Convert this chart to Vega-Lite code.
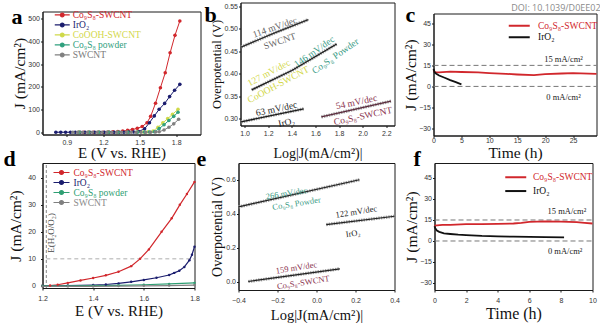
{
"$schema":"https://vega.github.io/schema/vega-lite/v6.json",
"background":"white",
"padding":{"left":2.5,"top":1.5,"right":0,"bottom":0},
"config":{
 "view":{"stroke":null},
 "axis":{"grid":false,"domainColor":"#1a1a1a","tickColor":"#1a1a1a","tickSize":2,"labelFont":"Liberation Sans","labelFontSize":7,"labelColor":"#333333","titleFont":"Liberation Serif","titleFontWeight":"normal","titleColor":"#111111"},
 "axisX":{"labelFlush":false},
 "legend":{"padding":0,"labelFont":"Liberation Serif","labelFontSize":9.5,"labelLimit":0},
 "title":{"font":"Liberation Serif","fontSize":22,"fontWeight":"bold","color":"#000000","anchor":"start","frame":"group","offset":0,"baseline":"top"},
 "text":{"font":"Liberation Serif"}
},
"datasets":{
 "a":[
  {"s":"Co₉S₈-SWCNT","x":1.00,"y":0},{"s":"Co₉S₈-SWCNT","x":1.04,"y":0},{"s":"Co₉S₈-SWCNT","x":1.08,"y":0},{"s":"Co₉S₈-SWCNT","x":1.12,"y":0},{"s":"Co₉S₈-SWCNT","x":1.16,"y":0},{"s":"Co₉S₈-SWCNT","x":1.20,"y":0},{"s":"Co₉S₈-SWCNT","x":1.24,"y":0.5},{"s":"Co₉S₈-SWCNT","x":1.28,"y":1.5},{"s":"Co₉S₈-SWCNT","x":1.32,"y":3},{"s":"Co₉S₈-SWCNT","x":1.36,"y":5},{"s":"Co₉S₈-SWCNT","x":1.40,"y":8},{"s":"Co₉S₈-SWCNT","x":1.44,"y":12},{"s":"Co₉S₈-SWCNT","x":1.48,"y":17},{"s":"Co₉S₈-SWCNT","x":1.52,"y":25},{"s":"Co₉S₈-SWCNT","x":1.56,"y":42},{"s":"Co₉S₈-SWCNT","x":1.59,"y":70},{"s":"Co₉S₈-SWCNT","x":1.63,"y":128},{"s":"Co₉S₈-SWCNT","x":1.67,"y":196},{"s":"Co₉S₈-SWCNT","x":1.71,"y":262},{"s":"Co₉S₈-SWCNT","x":1.75,"y":350},{"s":"Co₉S₈-SWCNT","x":1.79,"y":427},{"s":"Co₉S₈-SWCNT","x":1.83,"y":490},
  {"s":"IrO₂","x":0.81,"y":0},{"s":"IrO₂","x":0.85,"y":0},{"s":"IrO₂","x":0.89,"y":0},{"s":"IrO₂","x":0.93,"y":0},{"s":"IrO₂","x":0.97,"y":0},{"s":"IrO₂","x":1.01,"y":0},{"s":"IrO₂","x":1.05,"y":0},{"s":"IrO₂","x":1.09,"y":0},{"s":"IrO₂","x":1.13,"y":0},{"s":"IrO₂","x":1.17,"y":0},{"s":"IrO₂","x":1.21,"y":0},{"s":"IrO₂","x":1.25,"y":0},{"s":"IrO₂","x":1.29,"y":0},{"s":"IrO₂","x":1.33,"y":0},{"s":"IrO₂","x":1.37,"y":0},{"s":"IrO₂","x":1.41,"y":0.5},{"s":"IrO₂","x":1.45,"y":1},{"s":"IrO₂","x":1.49,"y":3},{"s":"IrO₂","x":1.54,"y":15},{"s":"IrO₂","x":1.58,"y":42},{"s":"IrO₂","x":1.62,"y":72},{"s":"IrO₂","x":1.66,"y":101},{"s":"IrO₂","x":1.705,"y":127},{"s":"IrO₂","x":1.746,"y":157},{"s":"IrO₂","x":1.787,"y":185},{"s":"IrO₂","x":1.83,"y":211},
  {"s":"CoOOH-SWCNT","x":1.00,"y":0},{"s":"CoOOH-SWCNT","x":1.08,"y":0},{"s":"CoOOH-SWCNT","x":1.16,"y":0},{"s":"CoOOH-SWCNT","x":1.24,"y":0},{"s":"CoOOH-SWCNT","x":1.32,"y":0},{"s":"CoOOH-SWCNT","x":1.40,"y":0},{"s":"CoOOH-SWCNT","x":1.48,"y":0.5},{"s":"CoOOH-SWCNT","x":1.53,"y":1},{"s":"CoOOH-SWCNT","x":1.57,"y":2},{"s":"CoOOH-SWCNT","x":1.61,"y":5},{"s":"CoOOH-SWCNT","x":1.65,"y":22},{"s":"CoOOH-SWCNT","x":1.69,"y":41},{"s":"CoOOH-SWCNT","x":1.73,"y":60},{"s":"CoOOH-SWCNT","x":1.77,"y":79},{"s":"CoOOH-SWCNT","x":1.815,"y":101},
  {"s":"Co₉S₈ powder","x":1.00,"y":0},{"s":"Co₉S₈ powder","x":1.08,"y":0},{"s":"Co₉S₈ powder","x":1.16,"y":0},{"s":"Co₉S₈ powder","x":1.24,"y":0},{"s":"Co₉S₈ powder","x":1.32,"y":0},{"s":"Co₉S₈ powder","x":1.40,"y":0},{"s":"Co₉S₈ powder","x":1.48,"y":0},{"s":"Co₉S₈ powder","x":1.54,"y":0.5},{"s":"Co₉S₈ powder","x":1.58,"y":1},{"s":"Co₉S₈ powder","x":1.62,"y":2},{"s":"Co₉S₈ powder","x":1.66,"y":16},{"s":"Co₉S₈ powder","x":1.70,"y":33},{"s":"Co₉S₈ powder","x":1.74,"y":52},{"s":"Co₉S₈ powder","x":1.78,"y":70},{"s":"Co₉S₈ powder","x":1.815,"y":88},
  {"s":"SWCNT","x":0.95,"y":0},{"s":"SWCNT","x":0.99,"y":0},{"s":"SWCNT","x":1.03,"y":0},{"s":"SWCNT","x":1.07,"y":0},{"s":"SWCNT","x":1.11,"y":0},{"s":"SWCNT","x":1.15,"y":0},{"s":"SWCNT","x":1.19,"y":0},{"s":"SWCNT","x":1.23,"y":0},{"s":"SWCNT","x":1.27,"y":0},{"s":"SWCNT","x":1.31,"y":0},{"s":"SWCNT","x":1.35,"y":0},{"s":"SWCNT","x":1.39,"y":0},{"s":"SWCNT","x":1.43,"y":0},{"s":"SWCNT","x":1.47,"y":0},{"s":"SWCNT","x":1.51,"y":0},{"s":"SWCNT","x":1.55,"y":0},{"s":"SWCNT","x":1.59,"y":0},{"s":"SWCNT","x":1.63,"y":1},{"s":"SWCNT","x":1.66,"y":2},{"s":"SWCNT","x":1.70,"y":10},{"s":"SWCNT","x":1.74,"y":22},{"s":"SWCNT","x":1.78,"y":37},{"s":"SWCNT","x":1.82,"y":57}
 ],
 "b_lines":[
  {"s":"SWCNT","x":0.97,"y":0.459},{"s":"SWCNT","x":1.25,"y":0.490},{"s":"SWCNT","x":1.54,"y":0.520},
  {"s":"CoOOH-SWCNT","x":1.06,"y":0.364},{"s":"CoOOH-SWCNT","x":1.40,"y":0.407},{"s":"CoOOH-SWCNT","x":1.78,"y":0.466},
  {"s":"IrO₂","x":0.97,"y":0.293},{"s":"IrO₂","x":1.50,"y":0.322},
  {"s":"Co₉S₈-SWCNT","x":1.65,"y":0.304},{"s":"Co₉S₈-SWCNT","x":2.24,"y":0.339}
 ],
 "b_text":[
  {"t":"114 mV/dec","s":"SWCNT","x":1.256,"y":0.503},
  {"t":"SWCNT","s":"SWCNT","x":1.298,"y":0.472},
  {"t":"127 mV/dec","s":"CoOOH-SWCNT","x":1.205,"y":0.402},
  {"t":"CoOOH-SWCNT","s":"CoOOH-SWCNT","x":1.285,"y":0.376},
  {"t":"146 mV/dec","s":"Co₉S₈ powder","x":1.59,"y":0.449},
  {"t":"Co₉S₈ Powder","s":"Co₉S₈ powder","x":1.769,"y":0.439},
  {"t":"63 mV/dec","s":"IrO₂","x":1.27,"y":0.322},
  {"t":"IrO₂","s":"IrO₂","x":1.355,"y":0.292},
  {"t":"54 mV/dec","s":"Co₉S₈-SWCNT","x":1.947,"y":0.337},
  {"t":"Co₉S₈-SWCNT","s":"Co₉S₈-SWCNT","x":2.003,"y":0.306}
 ],
 "c":[
  {"s":"Co₉S₈-SWCNT","x":0,"y":11.5},{"s":"Co₉S₈-SWCNT","x":0.3,"y":10},{"s":"Co₉S₈-SWCNT","x":1,"y":10},{"s":"Co₉S₈-SWCNT","x":3,"y":10.5},{"s":"Co₉S₈-SWCNT","x":5,"y":10.3},{"s":"Co₉S₈-SWCNT","x":8,"y":10},{"s":"Co₉S₈-SWCNT","x":10,"y":9.5},{"s":"Co₉S₈-SWCNT","x":13,"y":9},{"s":"Co₉S₈-SWCNT","x":15,"y":8.5},{"s":"Co₉S₈-SWCNT","x":18,"y":8},{"s":"Co₉S₈-SWCNT","x":20,"y":8.8},{"s":"Co₉S₈-SWCNT","x":23,"y":9.2},{"s":"Co₉S₈-SWCNT","x":25,"y":9.5},{"s":"Co₉S₈-SWCNT","x":29.2,"y":9},
  {"s":"IrO₂","x":0,"y":12.5},{"s":"IrO₂","x":0.2,"y":10},{"s":"IrO₂","x":0.5,"y":9},{"s":"IrO₂","x":1,"y":7.8},{"s":"IrO₂","x":2,"y":6.2},{"s":"IrO₂","x":3,"y":4.5},{"s":"IrO₂","x":4,"y":3},{"s":"IrO₂","x":5,"y":1.5}
 ],
 "c_ref":[{"x":0,"x2":29.2,"y":15},{"x":0,"x2":29.2,"y":0}],
 "c_text":[{"t":"15 mA/cm²","x":23.3,"y":19.9},{"t":"0 mA/cm²","x":23.3,"y":-7.9}],
 "d":[
  {"s":"Co₉S₈-SWCNT","x":1.2,"y":0},{"s":"Co₉S₈-SWCNT","x":1.23,"y":0.1},{"s":"Co₉S₈-SWCNT","x":1.26,"y":0.4},{"s":"Co₉S₈-SWCNT","x":1.30,"y":1.1},{"s":"Co₉S₈-SWCNT","x":1.35,"y":2.0},{"s":"Co₉S₈-SWCNT","x":1.40,"y":2.9},{"s":"Co₉S₈-SWCNT","x":1.45,"y":3.9},{"s":"Co₉S₈-SWCNT","x":1.50,"y":5.2},{"s":"Co₉S₈-SWCNT","x":1.55,"y":7.3},{"s":"Co₉S₈-SWCNT","x":1.585,"y":10},{"s":"Co₉S₈-SWCNT","x":1.62,"y":13.5},{"s":"Co₉S₈-SWCNT","x":1.67,"y":20},{"s":"Co₉S₈-SWCNT","x":1.71,"y":25},{"s":"Co₉S₈-SWCNT","x":1.742,"y":30},{"s":"Co₉S₈-SWCNT","x":1.77,"y":34},{"s":"Co₉S₈-SWCNT","x":1.80,"y":38.5},
  {"s":"IrO₂","x":1.2,"y":0},{"s":"IrO₂","x":1.3,"y":0.1},{"s":"IrO₂","x":1.4,"y":0.3},{"s":"IrO₂","x":1.45,"y":0.5},{"s":"IrO₂","x":1.5,"y":0.9},{"s":"IrO₂","x":1.55,"y":1.5},{"s":"IrO₂","x":1.6,"y":2.2},{"s":"IrO₂","x":1.65,"y":3.0},{"s":"IrO₂","x":1.70,"y":4.0},{"s":"IrO₂","x":1.72,"y":4.8},{"s":"IrO₂","x":1.74,"y":5.6},{"s":"IrO₂","x":1.76,"y":7.0},{"s":"IrO₂","x":1.78,"y":9.5},{"s":"IrO₂","x":1.79,"y":11.5},{"s":"IrO₂","x":1.80,"y":14.5},
  {"s":"Co₉S₈ powder","x":1.2,"y":0},{"s":"Co₉S₈ powder","x":1.3,"y":0},{"s":"Co₉S₈ powder","x":1.4,"y":0.05},{"s":"Co₉S₈ powder","x":1.5,"y":0.2},{"s":"Co₉S₈ powder","x":1.6,"y":0.4},{"s":"Co₉S₈ powder","x":1.7,"y":0.7},{"s":"Co₉S₈ powder","x":1.8,"y":1.1},
  {"s":"SWCNT","x":1.2,"y":-0.2},{"s":"SWCNT","x":1.3,"y":-0.2},{"s":"SWCNT","x":1.4,"y":-0.2},{"s":"SWCNT","x":1.5,"y":-0.1},{"s":"SWCNT","x":1.6,"y":0},{"s":"SWCNT","x":1.7,"y":0.1},{"s":"SWCNT","x":1.8,"y":0.3}
 ],
 "d_vline":[{"x":1.215,"y":-0.8,"y2":45.5}],
 "d_hline":[{"x":1.215,"x2":1.8,"y":10}],
 "d_text":[{"t":"E(H₂O/O₂)","x":1.234,"y":19.6}],
 "e_lines":[
  {"s":"Co₉S₈ powder","x":-0.40,"y":0.440},{"s":"Co₉S₈ powder","x":0.22,"y":0.600},
  {"s":"IrO₂","x":0.05,"y":0.336},{"s":"IrO₂","x":0.40,"y":0.385},
  {"s":"Co₉S₈-SWCNT","x":-0.35,"y":0.0},{"s":"Co₉S₈-SWCNT","x":0.12,"y":0.075}
 ],
 "e_text":[
  {"t":"266 mV/dec","s":"Co₉S₈ powder","x":-0.154,"y":0.521},
  {"t":"Co₉S₈ Powder","s":"Co₉S₈ powder","x":-0.103,"y":0.462},
  {"t":"122 mV/dec","s":"IrO₂","x":0.204,"y":0.413},
  {"t":"IrO₂","s":"IrO₂","x":0.187,"y":0.285},
  {"t":"159 mV/dec","s":"Co₉S₈-SWCNT","x":-0.103,"y":0.083},
  {"t":"Co₉S₈-SWCNT","s":"Co₉S₈-SWCNT","x":-0.068,"y":-0.004}
 ],
 "f":[
  {"s":"Co₉S₈-SWCNT","x":0,"y":11},{"s":"Co₉S₈-SWCNT","x":0.5,"y":11.5},{"s":"Co₉S₈-SWCNT","x":1,"y":11.5},{"s":"Co₉S₈-SWCNT","x":2,"y":12},{"s":"Co₉S₈-SWCNT","x":3,"y":12},{"s":"Co₉S₈-SWCNT","x":4,"y":12.2},{"s":"Co₉S₈-SWCNT","x":5,"y":12.5},{"s":"Co₉S₈-SWCNT","x":5.5,"y":13},{"s":"Co₉S₈-SWCNT","x":6,"y":13.7},{"s":"Co₉S₈-SWCNT","x":7,"y":14},{"s":"Co₉S₈-SWCNT","x":8,"y":13.8},{"s":"Co₉S₈-SWCNT","x":9,"y":13.5},{"s":"Co₉S₈-SWCNT","x":9.5,"y":13},{"s":"Co₉S₈-SWCNT","x":10,"y":12.5},
  {"s":"IrO₂","x":0,"y":10.5},{"s":"IrO₂","x":0.05,"y":9},{"s":"IrO₂","x":0.15,"y":7.5},{"s":"IrO₂","x":0.3,"y":6.5},{"s":"IrO₂","x":0.6,"y":5.5},{"s":"IrO₂","x":1,"y":5},{"s":"IrO₂","x":1.5,"y":4.5},{"s":"IrO₂","x":2,"y":4.2},{"s":"IrO₂","x":3,"y":3.6},{"s":"IrO₂","x":4,"y":3.3},{"s":"IrO₂","x":5,"y":3.1},{"s":"IrO₂","x":6,"y":2.9},{"s":"IrO₂","x":7,"y":2.7},{"s":"IrO₂","x":8.2,"y":2.6}
 ],
 "f_ref":[{"x":0,"x2":10,"y":15},{"x":0,"x2":10,"y":0}],
 "f_text":[{"t":"15 mA/cm²","x":8.38,"y":21.2},{"t":"0 mA/cm²","x":8.27,"y":-7.4}]
},
"resolve":{"scale":{"color":"independent","fill":"independent","stroke":"independent"},"legend":{"color":"independent"}},
"spacing":-14.5,
"vconcat":[
 {"resolve":{"scale":{"color":"independent","fill":"independent","stroke":"independent"},"legend":{"color":"independent"}},
  "title":{"text":"DOI: 10.1039/D0EE02","anchor":"end","frame":"bounds","orient":"top","offset":-11.5,"dx":0,"font":"Open Sans","fontSize":9,"fontWeight":"normal","color":"#8a8a8a","baseline":"top"},
  "spacing":2,
  "hconcat":[
  {"resolve":{"scale":{"color":"independent"},"legend":{"color":"independent"}},
   "spacing":0,
   "vconcat":[
   {"width":1,"height":1.5,"mark":"point","data":{"values":[]}},
   {
   "width":158,"height":123,"view":{"stroke":"#1a1a1a"},
   "title":{"text":"a","dx":-31,"dy":22.3},
   "data":{"name":"a"},
   "encoding":{
    "x":{"field":"x","type":"quantitative","scale":{"domain":[0.7,2.0],"nice":false,"zero":false},"axis":{"values":[0.9,1.2,1.5,1.8],"format":".1f","title":"E (V vs. RHE)","titleFontSize":15,"labelPadding":2,"titlePadding":0}},
    "y":{"field":"y","type":"quantitative","scale":{"domain":[-10,532],"nice":false,"zero":false},"axis":{"values":[0,100,200,300,400,500],"title":"J (mA/cm²)","titleFontSize":15.5,"labelPadding":1,"titlePadding":0}},
    "color":{"field":"s","type":"nominal","scale":{"domain":["Co₉S₈-SWCNT","IrO₂","CoOOH-SWCNT","Co₉S₈ powder","SWCNT"],"range":["#d1272c","#1b1d6e","#cfd94a","#30a07e","#808080"]},
     "legend":{"title":null,"orient":"none","legendX":15,"legendY":-1.3,"symbolType":"M-2,0H2M0.5,0A0.5,0.5,0,1,1,-0.5,0A0.5,0.5,0,1,1,0.5,0","symbolSize":56,"symbolStrokeWidth":1.2,"labelOffset":5.75,"rowPadding":-3.8,
      "encode":{"labels":{"update":{"fill":{"signal":"datum.value==='IrO₂'?'#1b1d6e':datum.value==='CoOOH-SWCNT'?'#d3d84c':datum.value==='Co₉S₈ powder'?'#30a07e':datum.value==='SWCNT'?'#7a7a7a':'#d1272c'"}}}}}}
   },
   "layer":[
    {"mark":{"type":"line","strokeWidth":1}},
    {"mark":{"type":"point","filled":true,"size":13,"opacity":1}}
   ]
  }]},
  {"resolve":{"scale":{"color":"independent","fill":"independent","stroke":"independent"},"legend":{"color":"independent"}},
   "spacing":4,
   "hconcat":[
  {
   "width":154,"height":123,"view":{"stroke":"#1a1a1a"},
   "title":{"text":"b","dx":-36,"dy":28.5},
   "encoding":{
    "x":{"field":"x","type":"quantitative","scale":{"domain":[0.965,2.27],"nice":false,"zero":false},"axis":{"values":[1.0,1.2,1.4,1.6,1.8,2.0,2.2],"format":".1f","title":"Log|J(mA/cm²)|","titleFontSize":14,"labelPadding":2,"titlePadding":10}},
    "y":{"field":"y","type":"quantitative","scale":{"domain":[0.285,0.558],"nice":false,"zero":false},"axis":{"values":[0.30,0.35,0.40,0.45,0.50,0.55],"format":".2f","title":"Overpotential (V)","titleFontSize":12.5,"labelPadding":1,"titlePadding":0}}
   },
   "layer":[
    {"data":{"name":"b_lines"},"mark":{"type":"line","strokeWidth":3.2,"color":"#a0a0a0","strokeDash":[1.5,1]},"encoding":{"detail":{"field":"s"}}},
    {"data":{"name":"b_lines"},"mark":{"type":"line","strokeWidth":1.3},"encoding":{"detail":{"field":"s"},"stroke":{"field":"s","type":"nominal","scale":{"domain":["SWCNT","CoOOH-SWCNT","IrO₂","Co₉S₈-SWCNT"],"range":["#2b2b2b","#1a1a1a","#1a1a1a","#5c2b3d"]},"legend":null}}},
    {"data":{"name":"b_text"},"transform":[{"filter":{"field":"t","oneOf":["114 mV/dec","SWCNT"]}}],"mark":{"type":"text","angle":341,"fontSize":9.5},"encoding":{"text":{"field":"t"},"fill":{"field":"s","type":"nominal","scale":{"domain":["SWCNT","CoOOH-SWCNT","Co₉S₈ powder","IrO₂","Co₉S₈-SWCNT"],"range":["#666666","#d3d84c","#3b9c86","#1f1f1f","#8b3550"]},"legend":null}}},
    {"data":{"name":"b_text"},"transform":[{"filter":{"field":"t","oneOf":["127 mV/dec","CoOOH-SWCNT"]}}],"mark":{"type":"text","angle":332,"fontSize":9.5},"encoding":{"text":{"field":"t"},"fill":{"field":"s","type":"nominal","legend":null}}},
    {"data":{"name":"b_text"},"transform":[{"filter":{"field":"t","oneOf":["146 mV/dec","Co₉S₈ Powder"]}}],"mark":{"type":"text","angle":325,"fontSize":9.5},"encoding":{"text":{"field":"t"},"fill":{"field":"s","type":"nominal","legend":null}}},
    {"data":{"name":"b_text"},"transform":[{"filter":{"field":"t","oneOf":["63 mV/dec","IrO₂","54 mV/dec","Co₉S₈-SWCNT"]}}],"mark":{"type":"text","angle":348,"fontSize":9.5},"encoding":{"text":{"field":"t"},"fill":{"field":"s","type":"nominal","legend":null}}}
   ]
  },
  {"resolve":{"scale":{"color":"independent"},"legend":{"color":"independent"}},
   "spacing":0,
   "vconcat":[
   {"width":1,"height":1,"mark":"point","data":{"values":[]}},
   {
   "width":163,"height":122,"view":{"stroke":"#1a1a1a"},
   "title":{"text":"c","dx":-28,"dy":17.5},
   "encoding":{
    "x":{"field":"x","type":"quantitative","scale":{"domain":[0,29.2],"nice":false,"zero":false},"axis":{"values":[0,5,10,15,20,25],"title":"Time (h)","titleFontSize":15.5,"labelPadding":-1,"titlePadding":2}},
    "y":{"field":"y","type":"quantitative","scale":{"domain":[-35,52],"nice":false,"zero":false},"axis":{"values":[-30,-15,0,15,30,45],"title":"J (mA/cm²)","titleFontSize":15.5,"labelPadding":1,"titlePadding":0}}
   },
   "layer":[
    {"data":{"name":"c_ref"},"mark":{"type":"rule","color":"#777777","strokeWidth":1,"strokeDash":[5,3]},"encoding":{"x2":{"field":"x2"}}},
    {"data":{"name":"c"},"mark":{"type":"line","strokeWidth":1.8},"encoding":{"color":{"field":"s","type":"nominal","scale":{"domain":["Co₉S₈-SWCNT","IrO₂"],"range":["#d1272c","#111111"]},
     "legend":{"title":null,"orient":"none","legendX":79.25,"legendY":5.75,"symbolType":"M-2,0H2","symbolSize":110,"symbolStrokeWidth":2,"labelOffset":12.25,"rowPadding":0.5,
      "encode":{"labels":{"update":{"fill":{"signal":"datum.value==='IrO₂'?'#111111':'#d1272c'"}}}}}}}},
    {"data":{"name":"c_text"},"mark":{"type":"text","fontSize":8.5,"color":"#222222"},"encoding":{"text":{"field":"t"}}}
   ]
  }]}
  ]}
 ]},
 {"resolve":{"scale":{"color":"independent","fill":"independent","stroke":"independent"},"legend":{"color":"independent"}},
  "spacing":2,
  "hconcat":[
  {"resolve":{"scale":{"color":"independent","fill":"independent","stroke":"independent"},"legend":{"color":"independent"}},
   "spacing":-5,
   "hconcat":[
  {
   "width":152,"height":125,"view":{"stroke":"#1a1a1a"},
   "title":{"text":"d","dx":-39,"dy":12},
   "encoding":{
    "x":{"field":"x","type":"quantitative","scale":{"domain":[1.2,1.8],"nice":false,"zero":false},"axis":{"values":[1.2,1.4,1.6,1.8],"format":".1f","title":"E (V vs. RHE)","titleFontSize":15,"labelPadding":4,"titlePadding":2}},
    "y":{"field":"y","type":"quantitative","scale":{"domain":[-0.8,45.5],"nice":false,"zero":false},"axis":{"values":[0,10,20,30,40],"title":"J (mA/cm²)","titleFontSize":15.5,"labelPadding":5,"titlePadding":4}}
   },
   "layer":[
    {"data":{"name":"d_vline"},"mark":{"type":"rule","color":"#888888","strokeWidth":1,"strokeDash":[3,2]},"encoding":{"y2":{"field":"y2"}}},
    {"data":{"name":"d_hline"},"mark":{"type":"rule","color":"#999999","strokeWidth":0.8,"strokeDash":[4,3]},"encoding":{"x2":{"field":"x2"}}},
    {"data":{"name":"d"},"mark":{"type":"line","strokeWidth":1.2},"encoding":{"color":{"field":"s","type":"nominal","scale":{"domain":["Co₉S₈-SWCNT","IrO₂","Co₉S₈ powder","SWCNT"],"range":["#d1272c","#1b1d6e","#2f9f73","#808080"]},
     "legend":{"title":null,"orient":"none","legendX":14,"legendY":4.5,"symbolType":"M-2,0H2M0.5,0A0.5,0.5,0,1,1,-0.5,0A0.5,0.5,0,1,1,0.5,0","symbolSize":64,"symbolStrokeWidth":1.2,"labelOffset":7,"rowPadding":-4,
      "encode":{"labels":{"update":{"fill":{"signal":"datum.value==='IrO₂'?'#1b1d6e':datum.value==='Co₉S₈ powder'?'#2f9f73':datum.value==='SWCNT'?'#8a8a8a':'#d1272c'"}}}}}}}},
    {"data":{"name":"d"},"mark":{"type":"point","filled":true,"size":6,"opacity":1},"encoding":{"color":{"field":"s","type":"nominal"}}},
    {"data":{"name":"d_text"},"mark":{"type":"text","angle":270,"fontSize":9,"color":"#444444"},"encoding":{"text":{"field":"t"}}}
   ]
  },
  {
   "width":156,"height":127,"view":{"stroke":"#1a1a1a"},
   "title":{"text":"e","dx":-42,"dy":12},
   "encoding":{
    "x":{"field":"x","type":"quantitative","scale":{"domain":[-0.4,0.4],"nice":false,"zero":false},"axis":{"values":[-0.4,-0.2,0,0.2,0.4],"format":".1f","title":"Log|J(mA/cm²)|","titleFontSize":14.5,"labelPadding":4,"titlePadding":5}},
    "y":{"field":"y","type":"quantitative","scale":{"domain":[-0.05,0.699],"nice":false,"zero":false},"axis":{"values":[0,0.2,0.4,0.6],"format":".1f","title":"Overpotential (V)","titleFontSize":14,"labelPadding":1,"titlePadding":1}}
   },
   "layer":[
    {"data":{"name":"e_lines"},"mark":{"type":"line","strokeWidth":3.2,"color":"#a0a0a0","strokeDash":[1.5,1]},"encoding":{"detail":{"field":"s"}}},
    {"data":{"name":"e_lines"},"mark":{"type":"line","strokeWidth":1.2,"color":"#222222"},"encoding":{"detail":{"field":"s"}}},
    {"data":{"name":"e_text"},"mark":{"type":"text","angle":351,"fontSize":8.5},"encoding":{"text":{"field":"t"},"fill":{"field":"s","type":"nominal","scale":{"domain":["Co₉S₈ powder","IrO₂","Co₉S₈-SWCNT"],"range":["#3b9c86","#1f1f1f","#8b3550"]},"legend":null}}}
   ]
  }]},
  {
   "width":158,"height":127,"view":{"stroke":"#1a1a1a"},
   "title":{"text":"f","dx":-21,"dy":12},
   "encoding":{
    "x":{"field":"x","type":"quantitative","scale":{"domain":[0,10],"nice":false,"zero":false},"axis":{"values":[0,2,4,6,8,10],"title":"Time (h)","titleFontSize":16,"labelPadding":4,"titlePadding":2}},
    "y":{"field":"y","type":"quantitative","scale":{"domain":[-35,55.7],"nice":false,"zero":false},"axis":{"values":[-30,-15,0,15,30,45],"title":"J (mA/cm²)","titleFontSize":15.5,"labelPadding":1,"titlePadding":0}}
   },
   "layer":[
    {"data":{"name":"f_ref"},"mark":{"type":"rule","color":"#777777","strokeWidth":1,"strokeDash":[5,3]},"encoding":{"x2":{"field":"x2"}}},
    {"data":{"name":"f"},"mark":{"type":"line","strokeWidth":1.8},"encoding":{"color":{"field":"s","type":"nominal","scale":{"domain":["Co₉S₈-SWCNT","IrO₂"],"range":["#d1272c","#111111"]},
     "legend":{"title":null,"orient":"none","legendX":74.75,"legendY":7.75,"symbolType":"M-2,0H2","symbolSize":110,"symbolStrokeWidth":2,"labelOffset":10.75,"rowPadding":2.8,
      "encode":{"labels":{"update":{"fill":{"signal":"datum.value==='IrO₂'?'#111111':'#d1272c'"}}}}}}}},
    {"data":{"name":"f_text"},"mark":{"type":"text","fontSize":8.5,"color":"#222222"},"encoding":{"text":{"field":"t"}}}
   ]
  }
 ]}
]
}
